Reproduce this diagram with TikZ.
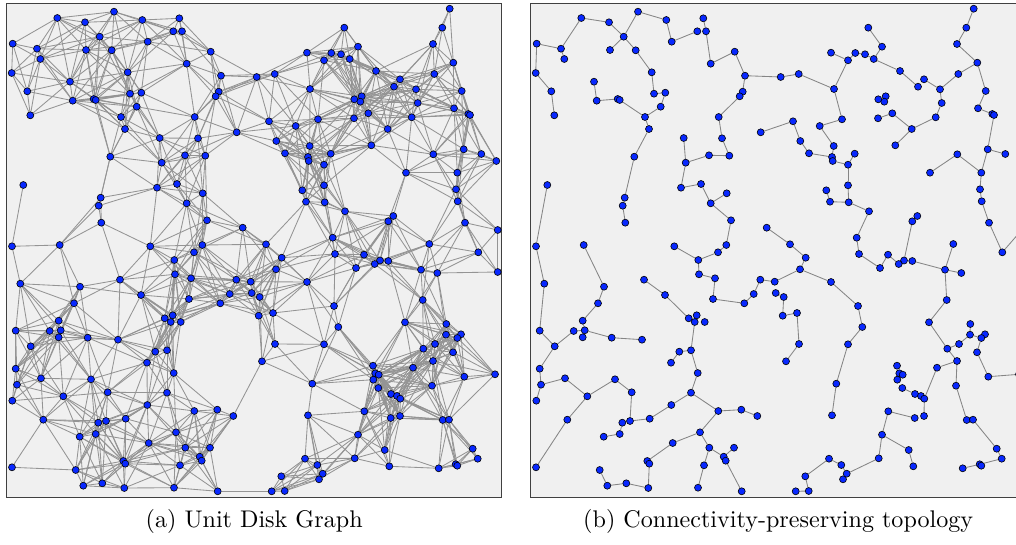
\documentclass[tikz,border=0pt]{standalone}
\usetikzlibrary{backgrounds}
\pgfdeclarelayer{panel}
\pgfdeclarelayer{links}
\pgfsetlayers{panel,links,main}
\definecolor{vtxblue}{RGB}{8,40,255}
\definecolor{panelbg}{RGB}{240,240,240}
\definecolor{linkgray}{RGB}{148,148,148}
\tikzset{
  vtx/.style={circle,draw=black,fill=vtxblue,line width=0.6pt,inner sep=0pt,minimum size=7pt},
  udglink/.style={draw=linkgray,line width=0.85pt},
  treelink/.style={draw=linkgray!90!black,line width=0.85pt},
  panelframe/.style={fill=panelbg,draw=black!75,line width=1.2pt},
  caption/.style={scale=2.41,anchor=base,inner sep=0pt}
}
% sensor positions (x / y, in px, y pointing down)
\def\sensors{57.3/18,114/11.7,85/22.3,142.3/20,179.3/18.3,173.3/31.3,182/31.3,99.7/36.7,12.7/43.7,37/48.7,
86/50,111.7/50.3,147.7/41.7,210.7/51.7,40.3/59,186.7/63.7,11.7/73,127.7/72.3,221/75.7,256.7/77,
70/81.7,27.3/91.3,218.7/91.7,215.7/96.3,72.7/100.7,93.7/99,95.7/100,130/93.7,141.3/92.7,136.7/106.7,
30.3/115.3,121/117,125/129,194.7/117,236.7/132.3,159.7/138,198/138.3,110.3/156.7,185/155.3,205.3/155.7,
161.7/162.7,23.3/185,157/187.7,177/184,202.7/193.3,100.7/197.7,98.7/205.7,186.7/203.3,101.3/222.7,207/220.3,
242.7/227.7,12/246.3,59.7/245,150.3/246.3,202.3/245,194/252.3,174.3/260,449.7/8.7,344.3/27.7,442.3/27.7,
433/44,307/52.7,331.3/53,341/54.3,358/46.7,324/60.3,349.7/59,453.3/62.7,376/71,274.7/74,
434.3/74,400/79.3,394/86.7,416/89.3,461.7/91,310/89,354.3/99.3,361.7/96.3,360.3/101.7,417.7/103,
454/108.3,468.3/114,470/115,368.3/113.3,411.7/117.3,269/121.3,295.7/126,318/119.3,354/118.3,387.7/129,
276.3/141,309.7/146,371.3/145.3,463.7/149.3,285/153.3,308/157,308.7/161,330.7/153.7,433.3/154.3,481.3/154,
496.3/161,324/164.7,406/172.7,457.3/172.7,324/185.3,302.3/190.3,456/189.3,306/201.7,324.7/202.3,457.7/201.3,
345/211.3,393.3/216,388.3/221.3,465/222.7,497.7/230,332.7/237.7,266/244.3,429.3/244,478.3/252.3,281.7/257.7,
335/254,364/254.7,380/260.5,388.3/261,356/268,374.7/264,421/269.7,437.3/273,497.7/272,276/269.3,
250.7/281.7,307/282,251.7/293,259.7/297,258.7/315.7,273/313,334/306,422.7/300,405/322.3,338.3/327,
446.3/324,446/334.7,461/334.3,457.3/338,275/344,324/344.3,435/344,423.3/348.7,453/352.3,262/361.3,
433/361,373/365.7,413/367.7,375.3/373.3,378.7/374.7,373.3/379.7,464.3/376.7,495/374.3,312.3/383.7,378.3/388,
432/385.7,391/394,397/396,400.3/398.7,364.3/411.3,308/415.3,390.7/418,400/416,442.7/420,449/419.7,
358/434.7,472.7/448.7,384.7/450,305/458.7,354.7/458.3,477.7/458.7,317.3/465,389.3/466.3,438.7/468.3,455.7/464.3,
457.3/465.7,322.7/473.7,281.3/476.3,319/479.3,271.7/491.3,284.7/491,175/274.3,191/278.3,20.3/283.7,80/286.7,
120/279.7,141/295,236.3/279.7,229.7/294,189/299,220.3/303.3,74/303.3,58.7/320.7,164.7/318.3,172.7/315.3,
170.7/322,180.7/322,15.7/330.7,49.7/331,60.7/330.3,58.7/337.3,87.7/337.7,118/339.7,30.7/346.3,155.3/351.7,
167/350.3,147/362.7,15.7/368.7,173.7/373,41/378.3,91/379.3,17/384.7,107.7/392.3,167/392.7,63.3/396.3,
12.3/400.7,147.3/405,194.3/411,217.3/409.7,233.3/416,43.3/419.7,125.7/418.7,98.3/422.7,106/421,79.7/436.7,
95.7/434,176/432.3,148.7/443,185.3/447.7,210/447.7,199.7/456.7,201.7/460.7,123.3/461,125.3/463.7,180/465.3,
12/467.3,75.7/470,83.3/485.7,102.3/483.3,124.3/488,174/487.7,217.7/491.3}
\def\nsensors{247}
% links kept by the topology control
\def\treelinks{1/3,3/8,8/2,2/4,4/13,13/6,5/7,7/16,16/14,14/19,19/20,19/23,23/24,24/34,34/37,37/40,40/39,39/41,36/41,
41/43,43/44,44/48,48/45,48/50,50/55,55/56,56/57,57/54,8/11,8/12,12/18,18/28,28/29,29/30,30/32,32/27,26/27,25/26,
21/25,32/33,33/38,38/46,46/47,47/49,9/10,10/1,10/15,9/17,17/22,22/31,42/52,53/190,35/86,51/117,117/120,
58/60,60/61,61/68,68/71,71/74,74/72,74/80,80/85,85/90,90/84,90/93,84/89,77/79,78/79,68/75,75/81,81/82,82/83,
83/94,94/100,94/104,104/99,99/103,104/107,107/110,110/114,114/119,119/115,59/65,65/67,67/69,69/73,62/66,66/63,
63/64,64/67,66/76,76/70,70/20,76/88,88/87,87/92,92/96,96/97,97/102,98/102,102/105,105/109,109/108,106/108,
109/111,111/116,116/121,86/91,91/95,95/96,112/113,113/123,118/127,122/125,121/125,122/126,126/123,123/124,
124/127,127/128,127/138,138/139,139/148,148/147,147/142,141/142,142/144,143/144,144/149,149/157,157/158,
148/151,151/153,153/164,164/168,162/163,163/164,162/160,151/161,161/169,169/170,170/172,172/176,176/180,
180/181,179/180,165/167,165/171,171/173,173/178,171/175,175/182,182/184,177/182,177/174,174/183,183/186,
186/185,120/130,130/132,130/131,131/193,132/137,137/140,140/146,146/159,159/166,133/134,134/135,135/136,
136/145,145/150,52/189,189/203,203/209,209/204,204/205,205/206,205/198,198/197,197/190,205/207,207/208,
209/213,213/217,217/221,217/215,215/220,220/216,216/218,218/229,229/228,229/227,227/222,222/219,219/214,
214/211,211/210,210/212,211/201,199/201,200/201,192/199,191/192,195/188,188/187,187/57,195/196,196/194,
194/193,219/223,223/224,224/225,223/232,232/233,233/238,238/239,239/245,245/244,244/243,243/242,232/234,
234/236,236/235,236/237,237/247,234/240,240/246,226/220,226/241,230/231,231/228}
% unit disk radius 65 px, squared, in tenths of px
\def\udgrsq{422500}
\newcount\udgi
\newcount\udgj
\newcount\udgdd
\def\udgx#1{\csname udgx\the#1\endcsname}
\def\udgy#1{\csname udgy\the#1\endcsname}
\def\udgtest{%
  \udgdd=\numexpr(\udgx\udgi-\udgx\udgj)*(\udgx\udgi-\udgx\udgj)+(\udgy\udgi-\udgy\udgj)*(\udgy\udgi-\udgy\udgj)\relax
  \ifnum\udgdd<\udgrsq\relax
    \edef\udgcmd{\noexpand\draw[udglink] (a\the\udgi) -- (a\the\udgj);}\udgcmd
  \fi}
\begin{document}
\begin{tikzpicture}[x=1pt,y=-1pt]
  \clip (0,0) rectangle (1016,545);
  \useasboundingbox (0,0) rectangle (1016,545);
  \begin{pgfonlayer}{panel}
    \draw[panelframe] (6.7,3.3) rectangle (501.7,497.7);
    \draw[panelframe] (530.7,3.3) rectangle (1025.7,497.7);
  \end{pgfonlayer}
  % the same sensors in both panels
  \foreach \x/\y [count=\i] in \sensors {
    \node[vtx] (a\i) at (\x,\y) {};
    \node[vtx] (b\i) at ({\x+524},\y) {};
    \pgfmathtruncatemacro\tx{round(\x*10)}
    \pgfmathtruncatemacro\ty{round(\y*10)}
    \expandafter\xdef\csname udgx\i\endcsname{\tx}
    \expandafter\xdef\csname udgy\i\endcsname{\ty}
  }
  \begin{pgfonlayer}{links}
    % unit disk graph: every pair closer than the radius
    \udgi=0
    \loop\ifnum\udgi<246
      \advance\udgi by 1
      \udgj=\udgi
      {\loop\ifnum\udgj<\nsensors
         \advance\udgj by 1
         \udgtest
       \repeat}
    \repeat
    % connectivity-preserving topology
    \foreach \s/\t in \treelinks { \draw[treelink] (b\s) -- (b\t); }
  \end{pgfonlayer}
  \node[caption] (capa) at (254.2,527) {(a) Unit Disk Graph};
  \node[caption] (capb) at (778.2,527) {(b) Connectivity-preserving topology};
\end{tikzpicture}
\end{document}
